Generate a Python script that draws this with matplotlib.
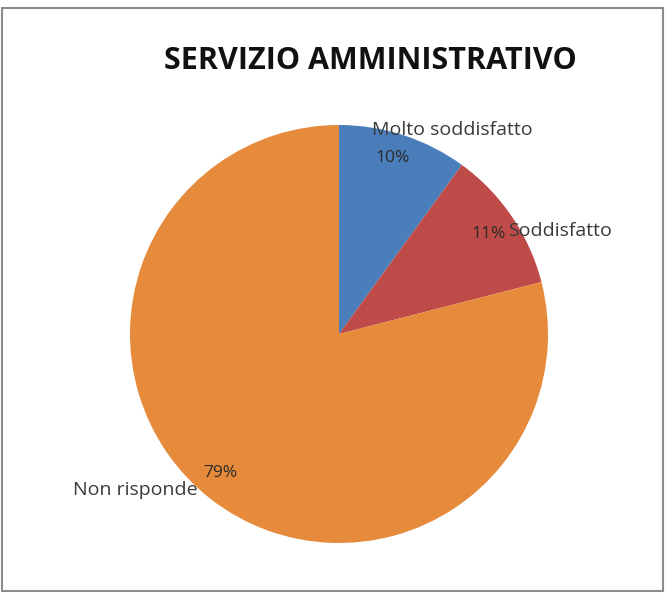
import matplotlib.pyplot as plt
from matplotlib.patches import Rectangle

categorie = ["Molto soddisfatto", "Soddisfatto", "Non risponde"]
percentuali = [10, 11, 79]
colori = ["#4A7EBB", "#BE4B48", "#E68A3C"]
titolo = "SERVIZIO AMMINISTRATIVO"

W, H = 667, 594
fig = plt.figure(figsize=(W / 100, H / 100), dpi=100)
ax = fig.add_axes([0, 0, 1, 1])

# cornice grigia del grafico
fig.patches.append(Rectangle((2 / W, 3 / H), 661 / W, 583 / H, transform=fig.transFigure,
                             fill=False, edgecolor="#8c8c8c", lw=1.5))

ax.pie(percentuali, colors=colori, startangle=90, counterclock=False,
       center=(339, H - 334), radius=209, frame=True,
       wedgeprops=dict(linewidth=0))
ax.set_xlim(0, W)
ax.set_ylim(0, H)
ax.axis("off")

font = "Open Sans"
ax.text(370, H - 61, titolo, fontsize=22, fontweight="bold", family=font,
        ha="center", va="center", color="#111111")

# etichette categoria e percentuale (coordinate in pixel dall'alto)
posizioni_nome = [(372, 130, "left"), (508, 231, "left"), (198, 490, "right")]
posizioni_pct = [(375, 158, "left"), (506, 234, "right"), (203, 473, "left")]
for nome, pct, (xn, yn, han), (xp, yp, hap) in zip(categorie, percentuali, posizioni_nome, posizioni_pct):
    ax.text(xn, H - yn, nome, fontsize=14, family=font, ha=han, va="center", color="#3a3a3a")
    ax.text(xp, H - yp, f"{pct}%", fontsize=12.5, family=font, ha=hap, va="center", color="#2a2a2a")

fig.savefig("out.png", dpi=100)
